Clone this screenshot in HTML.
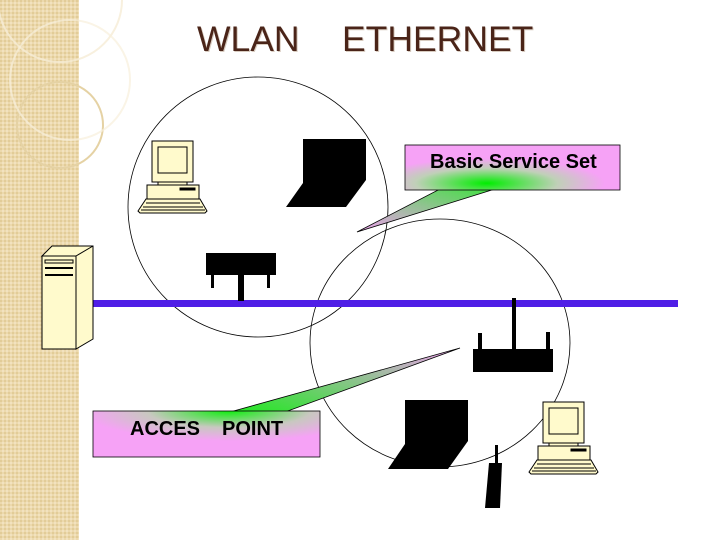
<!DOCTYPE html>
<html><head><style>body{margin:0}svg{display:block}</style></head><body>
<svg width="720" height="540" xmlns="http://www.w3.org/2000/svg" font-family="Liberation Sans, sans-serif">
<defs>
<pattern id="tex" width="4" height="4" patternUnits="userSpaceOnUse"><rect width="4" height="4" fill="#ecd9ad"/><rect width="2" height="2" fill="#e2cc98"/><rect x="2" y="2" width="2" height="2" fill="#f2e2bf"/></pattern>
<radialGradient id="g1" cx="0.38" cy="0.85" r="0.55"><stop offset="0" stop-color="#00ee00"/><stop offset="0.6" stop-color="#c0d0b8"/><stop offset="1" stop-color="#f6a2f6"/></radialGradient>
<linearGradient id="t1" x1="1" y1="0" x2="0" y2="1"><stop offset="0" stop-color="#40e040"/><stop offset="1" stop-color="#f0a0f0"/></linearGradient>
<radialGradient id="g2" cx="0.6" cy="0" r="0.65"><stop offset="0" stop-color="#10ee10"/><stop offset="0.55" stop-color="#c8c8c0"/><stop offset="1" stop-color="#f6a2f6"/></radialGradient>
<linearGradient id="t2" x1="0" y1="1" x2="1" y2="0"><stop offset="0" stop-color="#20e820"/><stop offset="1" stop-color="#f0a0f0"/></linearGradient>
</defs>
<rect width="720" height="540" fill="#fff"/>
<rect width="79" height="540" fill="url(#tex)"/>
<circle cx="60" cy="0" r="62" fill="none" stroke="#f6ecd6" stroke-width="2" opacity="0.8"/>
<circle cx="60" cy="125" r="43" fill="none" stroke="#e5d2a4" stroke-width="2"/>
<circle cx="70" cy="80" r="60" fill="none" stroke="#f8efdc" stroke-width="2" opacity="0.7"/>
<text x="197" y="51" font-size="35.5" fill="#d8ccc0" dx="1" dy="1">WLAN</text>
<text x="197" y="51" font-size="35.5" fill="#4a2418">WLAN</text>
<text x="342" y="51" font-size="35.5" fill="#d8ccc0" dx="1" dy="1">ETHERNET</text>
<text x="342" y="51" font-size="35.5" fill="#4a2418">ETHERNET</text>
<circle cx="258" cy="207" r="130" fill="none" stroke="#000" stroke-width="0.8"/>
<ellipse cx="440" cy="343" rx="130" ry="124" fill="none" stroke="#000" stroke-width="0.8"/>
<rect x="82" y="300" width="596" height="7" fill="#4f1ee6"/>
<polygon points="42,256 52,246 93,246 93,339 76,349 76,256" fill="#fffacc" stroke="#000"/>
<rect x="42" y="256" width="34" height="93" fill="#fffacc" stroke="#000"/>
<line x1="76" y1="256" x2="93" y2="246" stroke="#000"/>
<rect x="45" y="260" width="28" height="3" fill="none" stroke="#000"/>
<rect x="45" y="267" width="28" height="2" fill="#000"/><rect x="45" y="274" width="28" height="2" fill="#000"/>
<rect x="206" y="253" width="70" height="22" fill="#000"/>
<rect x="211" y="275" width="3" height="13" fill="#000"/><rect x="267" y="275" width="3" height="13" fill="#000"/>
<rect x="238" y="275" width="6" height="26" fill="#000"/>
<rect x="473" y="349" width="80" height="23" fill="#000"/>
<rect x="478" y="333" width="4" height="17" fill="#000"/><rect x="546" y="332" width="4" height="18" fill="#000"/>
<rect x="512" y="298" width="4" height="52" fill="#000"/>
<polygon points="303,139 366,139 366,180 346,207 286,207 303,183" fill="#000"/>
<polygon points="405,400 468,400 468,441 448,469 388,469 405,444" fill="#000"/>
<rect x="495" y="445" width="3" height="19" fill="#000"/>
<polygon points="489,463 502,463 500,508 485,508" fill="#000"/>
<g id="pc" stroke="#000" fill="#fffacc" stroke-width="1">
<rect x="152" y="141" width="41" height="41"/><rect x="158" y="147" width="29" height="26"/>
<rect x="158" y="182" width="29" height="4"/>
<rect x="147" y="185" width="52" height="14"/><rect x="180" y="188" width="15" height="2" fill="#000"/>
<polygon points="146,199 200,199 207,211 205,213 140,213 138,211"/>
<line x1="146" y1="203" x2="200" y2="203"/><line x1="143" y1="207" x2="203" y2="207"/><line x1="141" y1="210" x2="205" y2="210"/>
</g>
<use href="#pc" transform="translate(391,261)"/>
<polygon points="440,189 495,189 357,232" fill="url(#t1)" stroke="#000" stroke-width="0.8"/>
<rect x="405" y="145" width="215" height="45" fill="url(#g1)" stroke="#000" stroke-width="0.8"/>
<text x="430" y="168" font-size="20" font-weight="bold" fill="#000">Basic Service Set</text>
<polygon points="230,412 285,412 460,348" fill="url(#t2)" stroke="#000" stroke-width="0.8"/>
<rect x="93" y="411" width="227" height="46" fill="url(#g2)" stroke="#000" stroke-width="0.8"/>
<text x="130" y="435" font-size="20" font-weight="bold" fill="#000">ACCES</text>
<text x="222" y="435" font-size="20" font-weight="bold" fill="#000">POINT</text>
</svg>
</body></html>
